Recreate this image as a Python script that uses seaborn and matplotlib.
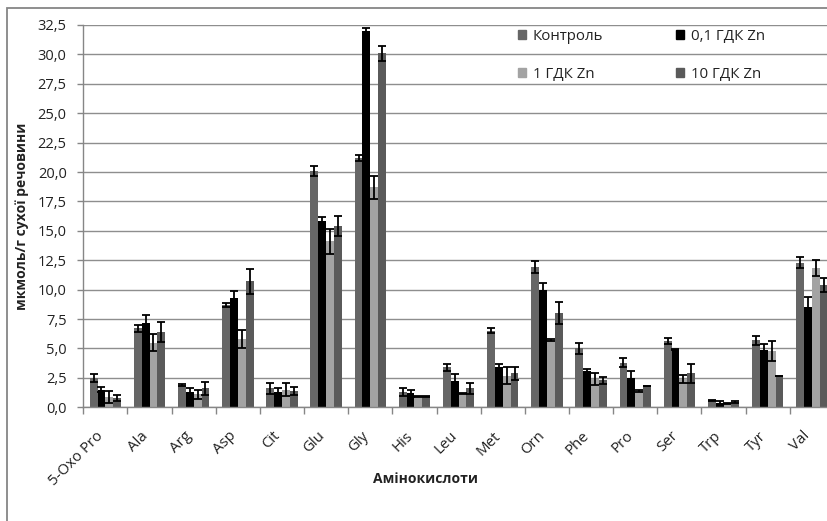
import matplotlib
matplotlib.use("Agg")
import matplotlib.pyplot as plt
import matplotlib.patches as mpatches
import matplotlib.transforms as mtransforms
from matplotlib.ticker import FixedLocator, FuncFormatter
import seaborn as sns
import pandas as pd

categories = ['5-Oxo Pro', 'Ala', 'Arg', 'Asp', 'Cit', 'Glu', 'Gly', 'His', 'Leu',
              'Met', 'Orn', 'Phe', 'Pro', 'Ser', 'Trp', 'Tyr', 'Val']
groups = ['Контроль', '0,1 ГДК Zn', '1 ГДК Zn', '10 ГДК Zn']

control = [2.5, 6.7, 1.9, 8.7, 1.6, 20.1, 21.2, 1.3, 3.4, 6.5, 11.9, 5.0, 3.8, 5.6, 0.55, 5.7, 12.3]
control_err = [0.35, 0.3, 0.05, 0.15, 0.5, 0.45, 0.25, 0.3, 0.3, 0.2, 0.5, 0.45, 0.35, 0.25, 0.05, 0.4, 0.45]
zn01 = [1.5, 7.2, 1.3, 9.3, 1.3, 15.8, 32.0, 1.2, 2.2, 3.4, 10.0, 3.1, 2.5, 4.9, 0.35, 4.85, 8.5]
zn01_err = [0.2, 0.65, 0.3, 0.55, 0.35, 0.4, 0.25, 0.3, 0.6, 0.25, 0.55, 0.15, 0.55, 0.05, 0.15, 0.5, 0.85]
zn1 = [0.9, 5.5, 1.1, 5.8, 1.5, 14.1, 18.7, 0.9, 1.2, 2.7, 5.7, 2.4, 1.4, 2.4, 0.35, 4.75, 11.85]
zn1_err = [0.5, 0.75, 0.4, 0.75, 0.55, 1.05, 1.0, 0.05, 0.05, 0.7, 0.1, 0.5, 0.1, 0.35, 0.05, 0.85, 0.7]
zn10 = [0.8, 6.4, 1.6, 10.7, 1.4, 15.4, 30.1, 0.9, 1.6, 2.9, 8.0, 2.3, 1.8, 2.9, 0.45, 2.65, 10.4]
zn10_err = [0.25, 0.85, 0.55, 1.05, 0.35, 0.85, 0.65, 0.05, 0.5, 0.55, 0.95, 0.28, 0.02, 0.8, 0.1, 0.02, 0.6]

series = [control, zn01, zn1, zn10]
errors = [control_err, zn01_err, zn1_err, zn10_err]
colors = ['#666666', '#000000', '#a3a3a3', '#5a5a5a']

yticks = [i * 2.5 for i in range(14)]

sns.set_theme(style="white")
plt.rcParams['font.family'] = ['Open Sans', 'DejaVu Sans']

rows = []
for g, vals in zip(groups, series):
    for c, v in zip(categories, vals):
        rows.append({'cat': c, 'group': g, 'value': v})
df = pd.DataFrame(rows)

W, H = 828, 521
fig = plt.figure(figsize=(W / 100, H / 100), dpi=100)
x0, x1 = 83.3, 833.9
yb, yt = 407.3, 25.0
ax = fig.add_axes([x0 / W, (H - yb) / H, (x1 - x0) / W, (yb - yt) / H])

sns.barplot(data=df, x='cat', y='value', hue='group', order=categories,
            hue_order=groups, palette=colors, width=0.71, errorbar=None,
            saturation=1, gap=0, ax=ax, legend=False, linewidth=0)

for cont, errs in zip(ax.containers, errors):
    xs = [p.get_x() + p.get_width() / 2 for p in cont]
    hs = [p.get_height() for p in cont]
    ax.errorbar(xs, hs, yerr=errs, fmt='none', ecolor='black', elinewidth=1.3,
                capsize=2.6, capthick=1.3, zorder=5)

ax.set_xlim(-0.5, len(categories) - 0.5)
ax.set_ylim(0, 32.5)
ax.yaxis.set_major_locator(FixedLocator(yticks))
ax.yaxis.set_major_formatter(FuncFormatter(lambda v, p: f"{v:.1f}".replace('.', ',')))
ax.grid(axis='y', color='#8e8e8e', linewidth=1.0)
ax.set_axisbelow(True)
for s in ['top', 'right']:
    ax.spines[s].set_visible(False)
for s in ['left', 'bottom']:
    ax.spines[s].set_color('#868686')
    ax.spines[s].set_linewidth(1.0)

ax.tick_params(axis='y', which='major', direction='out', length=4, width=1,
               color='#868686', pad=8, labelsize=10.5, labelcolor='#222222', left=True)
ax.xaxis.set_minor_locator(FixedLocator([i - 0.5 for i in range(len(categories) + 1)]))
ax.tick_params(axis='x', which='minor', direction='out', length=5, width=1,
               color='#868686', bottom=True)
ax.tick_params(axis='x', which='major', length=0, pad=14, labelsize=10.8,
               labelcolor='#222222')
ax.set_xticks(range(len(categories)))
ax.set_xticklabels(categories, rotation=45, ha='right', va='center',
                   rotation_mode='anchor')
offset = mtransforms.ScaledTranslation(-4 / 100, -7 / 100, fig.dpi_scale_trans)
for lab in ax.get_xticklabels():
    lab.set_transform(lab.get_transform() + offset)
ax.set_xlabel('')
ax.set_ylabel('')

fig.text(22 / W, 1 - 216 / H, 'мкмоль/г сухої речовини', rotation=90,
         ha='center', va='center', fontsize=10, fontweight='bold', color='#222222')
fig.text(426 / W, 1 - 479 / H, 'Амінокислоти', ha='center', va='center',
         fontsize=10, fontweight='bold', color='#222222')

handles = [mpatches.Patch(color=c) for c in colors]
leg_kw = dict(frameon=False, loc='center left', fontsize=10.8, handlelength=0.55,
              handleheight=0.55, handletextpad=0.45, labelspacing=1.5,
              borderpad=0, borderaxespad=0, bbox_transform=fig.transFigure,
              labelcolor='#222222')
leg1 = ax.legend([handles[0], handles[2]], [groups[0], groups[2]],
                 bbox_to_anchor=(518 / W, 1 - 55.5 / H), **leg_kw)
ax.add_artist(leg1)
ax.legend([handles[1], handles[3]], [groups[1], groups[3]],
          bbox_to_anchor=(676 / W, 1 - 55.5 / H), **leg_kw)

border = mpatches.Rectangle((7 / W, -0.2), 1.2, (H - 8) / H + 0.2,
                            transform=fig.transFigure, fill=False,
                            edgecolor='#868686', linewidth=1.3)
fig.patches.append(border)

fig.savefig('out.png', dpi=100)
